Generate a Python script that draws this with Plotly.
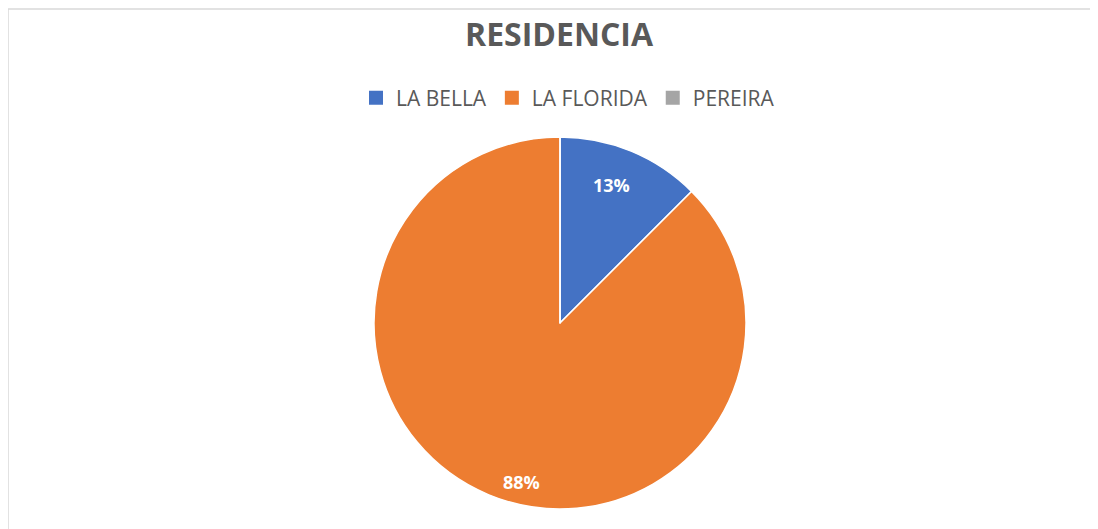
import math
import plotly.graph_objects as go

labels = ['LA BELLA', 'LA FLORIDA', 'PEREIRA']
values = [1, 7, 0]
colors = ['#4472C4', '#ED7D31', '#A5A5A5']

# the page body adds an 8px margin, so positions are taken relative to that
W, H = 1098, 529
off = 8
cx, cy, r = 560 - off, 323 - off, 186

dom_x = [(cx - r) / W, (cx + r) / W]
dom_y = [(H - cy - r) / H, (H - cy + r) / H]

fig = go.Figure()
fig.add_trace(go.Pie(
    labels=labels,
    values=values,
    marker=dict(colors=colors, line=dict(color='white', width=1.5)),
    sort=False,
    direction='clockwise',
    rotation=0,
    textinfo='none',
    showlegend=False,
    domain=dict(x=dom_x, y=dom_y),
))

# legend entries with bigger square swatches (like excel)
for lab, c in zip(labels, colors):
    fig.add_trace(go.Scatter(x=[None], y=[None], mode='markers', name=lab,
                             marker=dict(symbol='square', size=14, color=c)))

# percent labels, excel "best fit" style: along the slice, nudged a bit
lab_r = [0.79, 0.88, 0.8]
lab_shift = [-2, -9, 0]  # degrees
total = sum(values)
acc = 0
annotations = []
for v, f, sh in zip(values, lab_r, lab_shift):
    if v == 0:
        continue
    mid = (acc + v / 2) / total * 2 * math.pi + math.radians(sh)
    acc += v
    px_ = cx + f * r * math.sin(mid)
    py_ = cy - f * r * math.cos(mid)
    annotations.append(dict(x=px_ / W, y=1 - py_ / H, xref='paper', yref='paper',
                            xanchor='center', yanchor='middle',
                            text='<b>%d%%</b>' % round(100 * v / total + 1e-9),
                            showarrow=False, font=dict(family='Open Sans', size=18, color='white')))

fig.update_layout(
    width=W, height=H,
    margin=dict(l=0, r=0, t=0, b=0),
    paper_bgcolor='white',
    plot_bgcolor='white',
    font=dict(family='Open Sans', color='#595959'),
    title=dict(text='<b>RESIDENCIA</b>', x=(559 - off) / W, xanchor='center', y=1 - (35 - off) / H,
               yanchor='middle', font=dict(size=32, color='#595959')),
    legend=dict(orientation='h', x=(568 - off) / W, xanchor='center', y=1 - (98 - off) / H, yanchor='middle',
                font=dict(size=21, color='#595959')),
    xaxis=dict(visible=False),
    yaxis=dict(visible=False),
    annotations=annotations,
    shapes=[dict(type='rect', xref='paper', yref='paper', x0=0, x1=1.01, y0=-0.01, y1=1 - 1 / H,
                 line=dict(color='#D9D9D9', width=1.5))],
)

fig.write_html("out.html")
